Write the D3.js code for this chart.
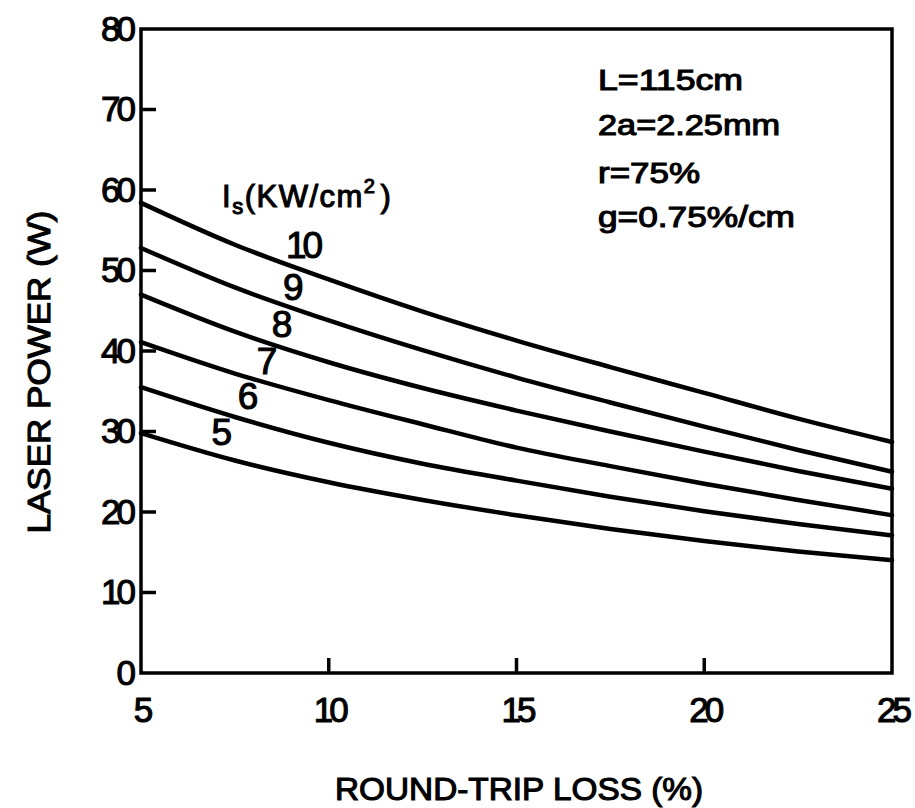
<!DOCTYPE html>
<html>
<head>
<meta charset="utf-8">
<script src="https://cdn.jsdelivr.net/npm/d3@7/dist/d3.min.js"></script>
<style>
  html, body { margin: 0; padding: 0; background: #fff; }
  svg text { font-family: "Liberation Sans", Arial, sans-serif; fill: #000; stroke: #000; stroke-width: 1.1px; }
</style>
</head>
<body>
<svg id="chart" width="915" height="808"></svg>
<script>
// ---- data ----
const lossValues = [5, 7.5, 10, 12.5, 15, 17.5, 20, 22.5, 25];   // round-trip loss (%)
const satIntensities = [10, 9, 8, 7, 6, 5];                     // Is (KW/cm^2)
const power10 = [58.4, 53.2, 48.9, 44.9, 41.3, 38.0, 34.8, 31.6, 28.7];
const power9  = [52.8, 47.9, 43.8, 40.1, 36.7, 33.6, 30.6, 27.7, 25.0];
const power8  = [47.0, 42.4, 38.6, 35.4, 32.6, 30.0, 27.5, 25.1, 22.9];
const power7  = [41.1, 37.2, 33.9, 30.9, 28.0, 25.7, 23.5, 21.5, 19.6];
const power6  = [35.5, 31.8, 28.6, 26.0, 23.9, 21.9, 20.1, 18.5, 17.1];
const power5  = [29.8, 26.4, 23.7, 21.5, 19.6, 17.9, 16.4, 15.1, 14.0];
const seriesValues = [power10, power9, power8, power7, power6, power5];
const xTicks = [5, 10, 15, 20, 25];
const yTicks = [0, 10, 20, 30, 40, 50, 60, 70, 80];
const paramLines = ["L=115cm", "2a=2.25mm", "r=75%", "g=0.75%/cm"];
// label anchor points (data coords) for curve numbers
const curveLabelX = [9.3, 9.0, 8.7, 8.3, 7.8, 7.1];
const curveLabelY = [51.6, 46.3, 41.8, 37.2, 32.8, 28.3];

// ---- layout ----
const svg = d3.select("#chart");
const mLeft = 141, mRight = 892, mTop = 29, mBottom = 673;
const x = d3.scaleLinear().domain([5, 25]).range([mLeft, mRight]);
const y = d3.scaleLinear().domain([0, 80]).range([mBottom, mTop]);

// frame
svg.append("rect")
  .attr("x", mLeft).attr("y", mTop)
  .attr("width", mRight - mLeft).attr("height", mBottom - mTop)
  .attr("fill", "none").attr("stroke", "#000").attr("stroke-width", 3.5);

// y axis (ticks inward)
const yAxis = d3.axisLeft(y).tickValues(yTicks).tickSize(0).tickPadding(9)
  .tickFormat(d3.format("d"));
const gy = svg.append("g").attr("transform", `translate(${mLeft},0)`).call(yAxis);
gy.select(".domain").remove();
gy.selectAll("text").attr("font-size", 35).attr("letter-spacing", -4)
  .attr("font-family", "Liberation Sans, Arial, sans-serif").attr("fill", "#000");
svg.append("g").selectAll("line").data(yTicks.filter(d => d > 0 && d < 80)).join("line")
  .attr("x1", mLeft).attr("x2", mLeft + 15)
  .attr("y1", d => y(d)).attr("y2", d => y(d))
  .attr("stroke", "#000").attr("stroke-width", 3.5);

// x axis (ticks inward)
const xAxis = d3.axisBottom(x).tickValues(xTicks).tickSize(0).tickPadding(24)
  .tickFormat(d3.format("d"));
const gx = svg.append("g").attr("transform", `translate(0,${mBottom})`).call(xAxis);
gx.select(".domain").remove();
gx.selectAll("text").attr("font-size", 35).attr("letter-spacing", -4)
  .attr("font-family", "Liberation Sans, Arial, sans-serif").attr("fill", "#000");
svg.append("g").selectAll("line").data(xTicks.filter(d => d > 5 && d < 25)).join("line")
  .attr("x1", d => x(d)).attr("x2", d => x(d))
  .attr("y1", mBottom).attr("y2", mBottom - 15)
  .attr("stroke", "#000").attr("stroke-width", 3.5);

// curves
const line = d3.line()
  .x((d, i) => x(lossValues[i]))
  .y(d => y(d))
  .curve(d3.curveMonotoneX);
svg.append("g").selectAll("path").data(seriesValues).join("path")
  .attr("d", d => line(d))
  .attr("fill", "none").attr("stroke", "#000").attr("stroke-width", 4.5)
  .attr("stroke-linecap", "round");

// curve labels
svg.append("g").selectAll("text").data(satIntensities).join("text")
  .attr("x", (d, i) => x(curveLabelX[i]))
  .attr("y", (d, i) => y(curveLabelY[i]))
  .attr("text-anchor", "middle")
  .attr("font-size", 37).attr("letter-spacing", -4)
  .text(d => d);

// Is label
const isLabel = svg.append("text").attr("x", 222).attr("y", 207)
  .attr("font-size", 31).attr("letter-spacing", 1.5);
isLabel.append("tspan").text("I");
isLabel.append("tspan").attr("font-size", 22).attr("dy", 7).text("s");
isLabel.append("tspan").attr("dy", -7).text("(KW/cm");
isLabel.append("tspan").attr("font-size", 20).attr("dy", -14).text("2");
isLabel.append("tspan").attr("dy", 14).attr("dx", 4).text(")");

// parameter text
const paramBaselines = [90, 135, 183, 227];
const paramWidths = [145, 182, 102, 197];
svg.append("g").selectAll("text").data(paramLines).join("text")
  .attr("x", 598)
  .attr("y", (d, i) => paramBaselines[i])
  .attr("font-size", 29)
  .attr("textLength", (d, i) => paramWidths[i])
  .attr("lengthAdjust", "spacingAndGlyphs")
  .text(d => d);

// axis titles
svg.append("text")
  .attr("transform", "translate(50,372) rotate(-90)")
  .attr("text-anchor", "middle")
  .attr("font-size", 31)
  .attr("textLength", 323).attr("lengthAdjust", "spacingAndGlyphs")
  .text("LASER POWER (W)");
svg.append("text")
  .attr("x", 519).attr("y", 800)
  .attr("text-anchor", "middle")
  .attr("font-size", 31)
  .attr("textLength", 368).attr("lengthAdjust", "spacingAndGlyphs")
  .text("ROUND-TRIP LOSS (%)");
</script>
</body>
</html>
